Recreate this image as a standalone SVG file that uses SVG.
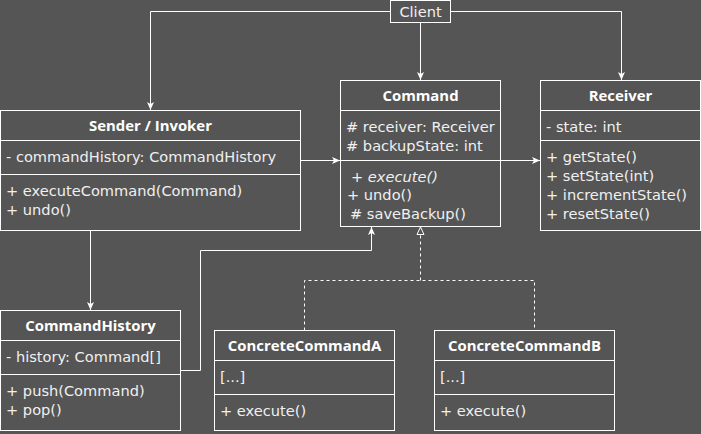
<svg xmlns="http://www.w3.org/2000/svg" width="701" height="434" viewBox="0 0 701 434">
<style>
.box{fill:#555555;stroke:#ffffff;stroke-width:1}
.div{stroke:#ffffff;stroke-width:1}
.t{font-family:"DejaVu Sans",sans-serif;font-size:14.6px;fill:#f0f0f0}
.h{font-family:"Open Sans",sans-serif;font-size:14.9px;font-weight:bold;fill:#ffffff;text-anchor:middle}
.c{fill:none;stroke:#ffffff;stroke-width:1}
.d{fill:none;stroke:#ffffff;stroke-width:1;stroke-dasharray:3 3}
</style>
<defs>
<marker id="arr" viewBox="0 0 8 8" refX="8" refY="4" markerWidth="8" markerHeight="8" markerUnits="userSpaceOnUse" orient="auto">
<path d="M0,0.5 L8,4 L0,7.5 L2,4 z" fill="#ffffff"/>
</marker>
<marker id="tri" viewBox="0 0 9 9" refX="8.5" refY="4.5" markerWidth="9" markerHeight="9" markerUnits="userSpaceOnUse" orient="auto">
<path d="M1,1 L8.5,4.5 L1,8 z" fill="#555555" stroke="#ffffff" stroke-width="1"/>
</marker>
</defs>
<rect width="701" height="434" fill="#555555"/>
<g id="connectors">
<path class="c" d="M390.5,11.5 H150.5 V110" marker-end="url(#arr)"/>
<path class="c" d="M450.5,11.5 H621.5 V80" marker-end="url(#arr)"/>
<path class="c" d="M420.5,22.5 V80" marker-end="url(#arr)"/>
<path class="c" d="M300.5,160.5 H340" marker-end="url(#arr)"/>
<path class="c" d="M500.5,160.5 H540" marker-end="url(#arr)"/>
<path class="c" d="M90.5,230.5 V310" marker-end="url(#arr)"/>
<path class="c" d="M180.5,370.5 H200.5 V250.5 H371.5 V227" marker-end="url(#arr)"/>
<path class="d" d="M304.5,330.5 V280.5 H534.5 V330.5"/>
<path class="d" d="M420.5,280.5 V227" marker-end="url(#tri)"/>
</g>
<g id="client">
<rect class="box" x="390.5" y="0.5" width="60" height="22"/>
<text class="t" x="420.5" y="16.5" text-anchor="middle">Client</text>
</g>
<g id="command">
<rect class="box" x="340.5" y="80.5" width="160" height="146"/>
<line class="div" x1="340.5" y1="110.5" x2="500.5" y2="110.5"/>
<line class="div" x1="340.5" y1="160.5" x2="500.5" y2="160.5"/>
<text class="h" x="420.5" y="101">Command</text>
<text class="t" x="346" y="132">#&#160;receiver: Receiver</text>
<text class="t" x="346" y="151">#&#160;backupState: int</text>
<text class="t" x="351" y="181.5" font-style="italic">+ execute()</text>
<text class="t" x="347" y="200">+ undo()</text>
<text class="t" x="350" y="218.5">#&#160;saveBackup()</text>
</g>
<g id="receiver">
<rect class="box" x="540.5" y="80.5" width="160" height="150"/>
<line class="div" x1="540.5" y1="110.5" x2="700.5" y2="110.5"/>
<line class="div" x1="540.5" y1="140.5" x2="700.5" y2="140.5"/>
<text class="h" x="620.5" y="101">Receiver</text>
<text class="t" x="546" y="132">- state: int</text>
<text class="t" x="546" y="162">+ getState()</text>
<text class="t" x="546" y="181">+ setState(int)</text>
<text class="t" x="546" y="200">+ incrementState()</text>
<text class="t" x="546" y="219">+ resetState()</text>
</g>
<g id="sender">
<rect class="box" x="0.5" y="110.5" width="300" height="120"/>
<line class="div" x1="0.5" y1="140.5" x2="300.5" y2="140.5"/>
<line class="div" x1="0.5" y1="174.5" x2="300.5" y2="174.5"/>
<text class="h" x="150.5" y="131">Sender / Invoker</text>
<text class="t" x="6" y="162">- commandHistory: CommandHistory</text>
<text class="t" x="6" y="196">+ executeCommand(Command)</text>
<text class="t" x="6" y="215">+ undo()</text>
</g>
<g id="commandhistory">
<rect class="box" x="0.5" y="310.5" width="180" height="120"/>
<line class="div" x1="0.5" y1="340.5" x2="180.5" y2="340.5"/>
<line class="div" x1="0.5" y1="374.5" x2="180.5" y2="374.5"/>
<text class="h" x="90.5" y="331">CommandHistory</text>
<text class="t" x="6" y="362">- history: Command[]</text>
<text class="t" x="6" y="396">+ push(Command)</text>
<text class="t" x="6" y="415">+ pop()</text>
</g>
<g id="concreteA">
<rect class="box" x="214.5" y="330.5" width="180" height="100"/>
<line class="div" x1="214.5" y1="360.5" x2="394.5" y2="360.5"/>
<line class="div" x1="214.5" y1="394.5" x2="394.5" y2="394.5"/>
<text class="h" x="304.5" y="351">ConcreteCommandA</text>
<text class="t" x="220" y="382">[...]</text>
<text class="t" x="220" y="416">+ execute()</text>
</g>
<g id="concreteB">
<rect class="box" x="434.5" y="330.5" width="180" height="100"/>
<line class="div" x1="434.5" y1="360.5" x2="614.5" y2="360.5"/>
<line class="div" x1="434.5" y1="394.5" x2="614.5" y2="394.5"/>
<text class="h" x="524.5" y="351">ConcreteCommandB</text>
<text class="t" x="440" y="382">[...]</text>
<text class="t" x="440" y="416">+ execute()</text>
</g>
</svg>
